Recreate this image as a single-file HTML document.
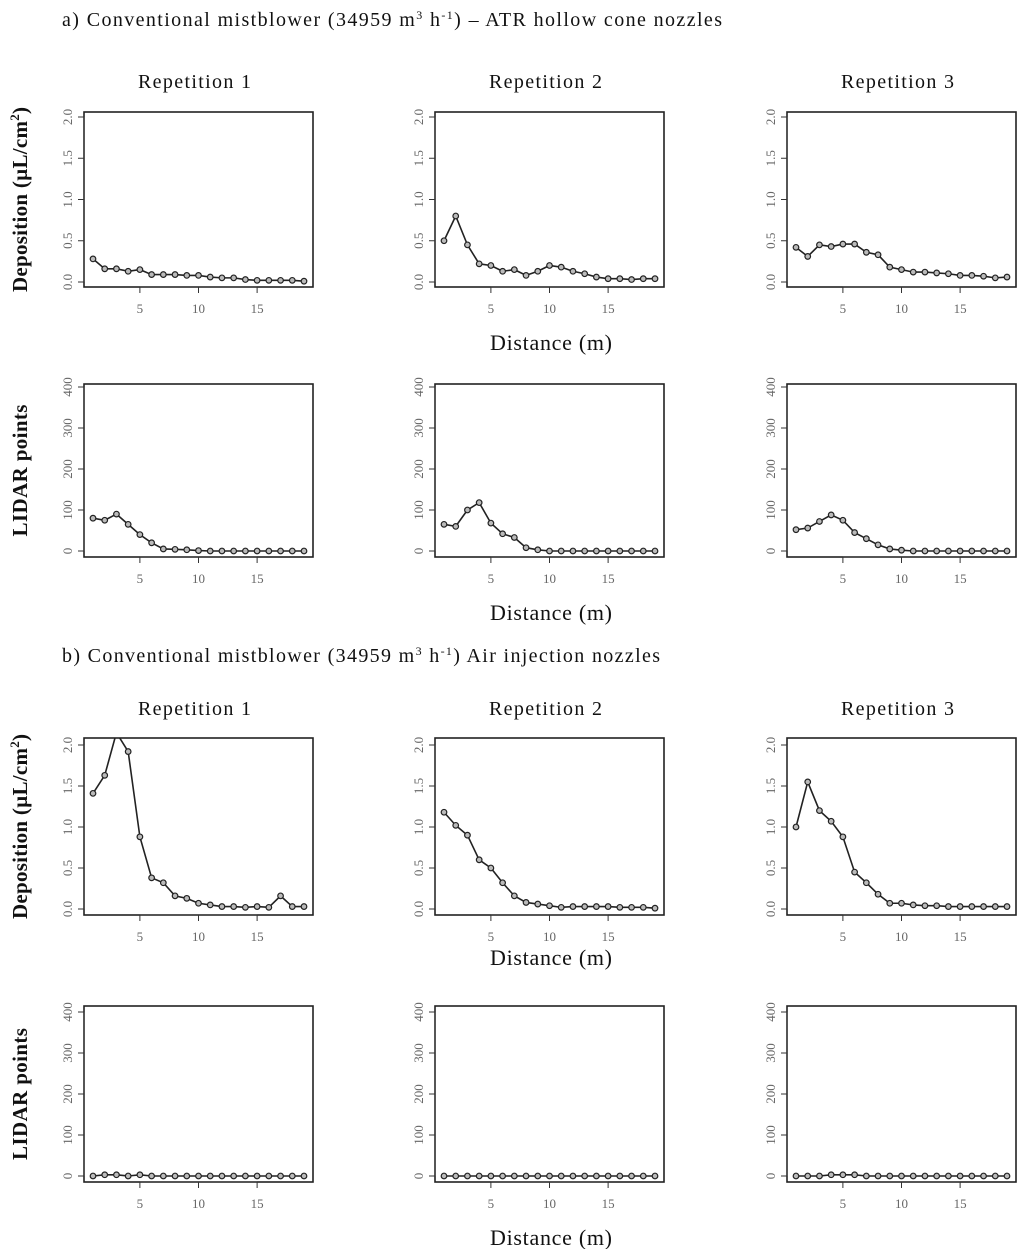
<!DOCTYPE html>
<html><head><meta charset="utf-8"><style>
body{margin:0;background:#fff}
svg{display:block}
text{font-family:"Liberation Serif",serif;fill:#111}
.tk{font-family:"Liberation Serif",serif;font-size:13px;fill:#666}
</style></head><body>
<svg id="c" width="1024" height="1249" viewBox="0 0 1024 1249">
<text x="62" y="26" font-size="20" textLength="660" lengthAdjust="spacing">a) Conventional mistblower (34959 m<tspan font-size="12" dy="-7">3</tspan><tspan dy="7"> h</tspan><tspan font-size="12" dy="-7">-1</tspan><tspan dy="7">) – ATR hollow cone nozzles</tspan></text>
<text x="62" y="662" font-size="20" textLength="598" lengthAdjust="spacing">b) Conventional mistblower (34959 m<tspan font-size="12" dy="-7">3</tspan><tspan dy="7"> h</tspan><tspan font-size="12" dy="-7">-1</tspan><tspan dy="7">) Air injection nozzles</tspan></text>
</svg>
<script>
const distances=[1,2,3,4,5,6,7,8,9,10,11,12,13,14,15,16,17,18,19];
const depA1=[0.28,0.16,0.16,0.13,0.15,0.09,0.09,0.09,0.08,0.08,0.06,0.05,0.05,0.03,0.02,0.02,0.02,0.02,0.01];
const depA2=[0.50,0.80,0.45,0.22,0.20,0.13,0.15,0.08,0.13,0.20,0.18,0.13,0.10,0.06,0.04,0.04,0.03,0.04,0.04];
const depA3=[0.42,0.31,0.45,0.43,0.46,0.46,0.36,0.33,0.18,0.15,0.12,0.12,0.11,0.10,0.08,0.08,0.07,0.05,0.06];
const lidA1=[80,75,90,65,40,20,5,4,3,1,0,0,0,0,0,0,0,0,0];
const lidA2=[65,60,100,118,68,42,33,8,3,0,0,0,0,0,0,0,0,0,0];
const lidA3=[52,56,72,88,75,45,30,15,5,2,0,0,0,0,0,0,0,0,0];
const depB1=[1.41,1.63,2.15,1.92,0.88,0.38,0.32,0.16,0.13,0.07,0.05,0.03,0.03,0.02,0.03,0.02,0.16,0.03,0.03];
const depB2=[1.18,1.02,0.90,0.60,0.50,0.32,0.16,0.08,0.06,0.04,0.02,0.03,0.03,0.03,0.03,0.02,0.02,0.02,0.01];
const depB3=[1.00,1.55,1.20,1.07,0.88,0.45,0.32,0.18,0.07,0.07,0.05,0.04,0.04,0.03,0.03,0.03,0.03,0.03,0.03];
const lidB1=[0,3,3,0,3,0,0,0,0,0,0,0,0,0,0,0,0,0,0];
const lidB2=[0,0,0,0,0,0,0,0,0,0,0,0,0,0,0,0,0,0,0];
const lidB3=[0,0,0,3,3,3,0,0,0,0,0,0,0,0,0,0,0,0,0];
const xTicks=[5,10,15];
const depTicks=[0,0.5,1.0,1.5,2.0];
const depTickLabels=["0.0","0.5","1.0","1.5","2.0"];
const lidTicks=[0,100,200,300,400];
const lidTickLabels=["0","100","200","300","400"];

const NS="http://www.w3.org/2000/svg";
const svg=document.getElementById('c');
function mk(tag,attrs,parent){const e=document.createElementNS(NS,tag);for(const k in attrs)e.setAttribute(k,attrs[k]);(parent||svg).appendChild(e);return e;}
const colsX=[84,435,787], boxW=229;
const rows=[
 {top:112,bot:287,y0:282,y1:117,max:2,ticks:depTicks,labels:depTickLabels,data:[depA1,depA2,depA3],kind:'deposition'},
 {top:384,bot:557,y0:551,y1:387,max:400,ticks:lidTicks,labels:lidTickLabels,data:[lidA1,lidA2,lidA3],kind:'lidar'},
 {top:738,bot:915,y0:909,y1:745,max:2,ticks:depTicks,labels:depTickLabels,data:[depB1,depB2,depB3],kind:'deposition'},
 {top:1006,bot:1182,y0:1176,y1:1012,max:400,ticks:lidTicks,labels:lidTickLabels,data:[lidB1,lidB2,lidB3],kind:'lidar'}
];
rows.forEach((r,ri)=>{
 r.data.forEach((vals,ci)=>{
  const L=colsX[ci];
  const xs=v=>L+9+(v-1)*(boxW-18)/18;
  const ys=v=>r.y0-(v/r.max)*(r.y0-r.y1);
  const g=mk('g',{});
  
  
  const cid='clip'+ri+ci;
  const cp=mk('clipPath',{id:cid},g);mk('rect',{x:L,y:r.top,width:boxW,height:r.bot-r.top},cp);
  const box=mk('rect',{x:L,y:r.top,width:boxW,height:r.bot-r.top,fill:'none',stroke:'#222','stroke-width':1.6},g);
  
  
  r.ticks.forEach((t,i)=>{
   const y=ys(t);
   mk('line',{x1:L-6,x2:L,y1:y,y2:y,stroke:'#333','stroke-width':1},g);
   const tx=mk('text',{x:L-12,y:y,class:'tk','text-anchor':'middle',transform:`rotate(-90 ${L-12} ${y})`},g);
   tx.textContent=r.labels[i];
   
   
  });
  mk('line',{x1:L,x2:L,y1:ys(r.ticks[0]),y2:ys(r.ticks[r.ticks.length-1]),stroke:'#333'},g);
  xTicks.forEach(t=>{
   const x=xs(t);
   mk('line',{x1:x,x2:x,y1:r.bot,y2:r.bot+6,stroke:'#333'},g);
   const tx=mk('text',{x:x,y:r.bot+26,class:'tk','text-anchor':'middle'},g);
   tx.textContent=t;
   
   
  });
  mk('line',{x1:xs(5),x2:xs(15),y1:r.bot,y2:r.bot,stroke:'#333'},g);
  const pts=vals.map((v,i)=>xs(distances[i])+','+ys(v)).join(' ');
  const pl=mk('polyline',{points:pts,fill:'none',stroke:'#222','stroke-width':1.6,'clip-path':`url(#${cid})`},g);
  
  
  vals.forEach((v,i)=>{
   const c=mk('circle',{cx:xs(distances[i]),cy:ys(v),r:2.8,fill:'#bbb',stroke:'#222','stroke-width':1.2,'clip-path':`url(#${cid})`},g);
   
   
  });
 });
 const cy=(r.top+r.bot)/2;
 const yt=mk('text',{x:27,y:cy,'font-size':21,'font-weight':'bold','text-anchor':'middle',transform:`rotate(-90 27 ${cy})`});
 if(r.kind==='deposition'){yt.setAttribute('textLength','185');yt.innerHTML='Deposition  (µL/cm<tspan font-size="13" dy="-8">2</tspan><tspan dy="8">)</tspan>';}
 else {yt.setAttribute('textLength','132');yt.textContent='LIDAR  points';}
 
 
 const xt=mk('text',{x:551,y:r.bot+(ri==2?50:63),'font-size':22,'text-anchor':'middle',textLength:122});
 xt.textContent='Distance  (m)';
 
 
});
[88,715].forEach((y,si)=>{
 colsX.forEach((L,ci)=>{
  const t=mk('text',{x:L+boxW/2-4,y:y,'font-size':20,'text-anchor':'middle',textLength:113});
  t.textContent='Repetition  '+(ci+1);
  
  
 });
});
</script>
</body></html>
